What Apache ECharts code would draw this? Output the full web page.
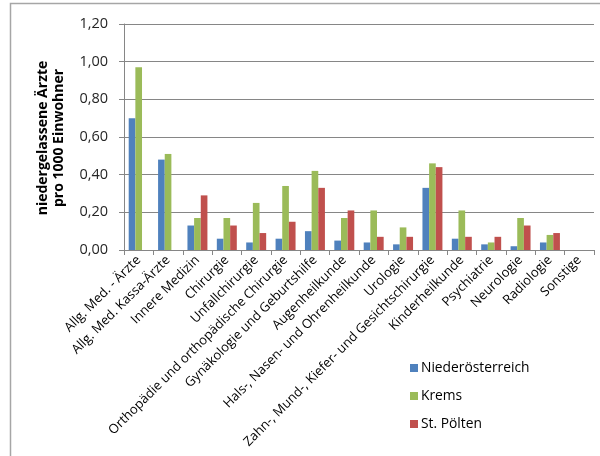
<!DOCTYPE html>
<html>
<head>
<meta charset="utf-8">
<script src="https://cdn.jsdelivr.net/npm/echarts@6/dist/echarts.min.js"></script>
<style>
  html, body { margin: 0; padding: 0; background: #fff; }
  #chart { width: 600px; height: 456px; }
</style>
</head>
<body>
<div id="chart"></div>
<script>
// Fachrichtungen
const categories = [
  'Allg. Med. - Ärzte',
  'Allg. Med. Kassa-Ärzte',
  'Innere Medizin',
  'Chirurgie',
  'Unfallchirurgie',
  'Orthopädie und orthopädische Chirurgie',
  'Gynäkologie und Geburtshilfe',
  'Augenheilkunde',
  'Hals-, Nasen- und Ohrenheilkunde',
  'Urologie',
  'Zahn-, Mund-, Kiefer- und Gesichtschirurgie',
  'Kinderheilkunde',
  'Psychiatrie',
  'Neurologie',
  'Radiologie',
  'Sonstige'
];

// niedergelassene Ärzte pro 1000 Einwohner
const niederoesterreich = [0.70, 0.48, 0.13, 0.06, 0.04, 0.06, 0.10, 0.05, 0.04, 0.03, 0.33, 0.06, 0.03, 0.02, 0.04, 0];
const krems             = [0.97, 0.51, 0.17, 0.17, 0.25, 0.34, 0.42, 0.17, 0.21, 0.12, 0.46, 0.21, 0.04, 0.17, 0.08, 0];
const stPoelten         = [0,    0,    0.29, 0.13, 0.09, 0.15, 0.33, 0.21, 0.07, 0.07, 0.44, 0.07, 0.07, 0.13, 0.09, 0];

const seriesNames = ['Niederösterreich', 'Krems', 'St. Pölten'];
const colors = ['#4F81BD', '#9BBB59', '#C0504D'];
const font = 'Open Sans, Lato, sans-serif';

const chart = echarts.init(document.getElementById('chart'), null, { renderer: 'canvas' });

chart.setOption({
  animation: false,
  color: colors,
  graphic: [{
    type: 'rect',
    shape: { x: 10.5, y: 3.5, width: 600, height: 470 },
    style: { fill: 'none', stroke: '#a6a6a6', lineWidth: 1.5 },
    silent: true
  }, {
    type: 'text',
    x: 51,
    y: 138,
    rotation: Math.PI / 2,
    style: {
      text: 'niedergelassene Ärzte\npro 1000 Einwohner',
      font: 'bold 14px ' + font,
      fill: '#000',
      align: 'center',
      verticalAlign: 'middle',
      lineHeight: 16
    },
    silent: true
  }],
  grid: { left: 124, right: 6, top: 24, bottom: 206, containLabel: false },
  legend: {
    orient: 'vertical',
    left: 405,
    top: 356,
    itemWidth: 8,
    itemHeight: 8,
    itemGap: 14,
    icon: 'rect',
    data: seriesNames,
    textStyle: { fontFamily: font, fontSize: 13.8, color: '#000', padding: [0, 0, 0, -2] }
  },
  xAxis: {
    type: 'category',
    data: categories,
    boundaryGap: true,
    axisLine: { lineStyle: { color: '#868686', width: 1 } },
    axisTick: { show: true, alignWithLabel: false, length: 5, lineStyle: { color: '#868686' } },
    axisLabel: {
      interval: 0,
      rotate: 45,
      fontFamily: font,
      fontSize: 13,
      color: '#000',
      margin: 8
    }
  },
  yAxis: {
    type: 'value',
    min: 0,
    max: 1.2,
    interval: 0.2,
    axisLine: { show: true, lineStyle: { color: '#868686', width: 1 } },
    axisTick: { show: true, inside: false, length: 5, lineStyle: { color: '#868686' } },
    splitLine: { lineStyle: { color: '#868686', width: 1 } },
    axisLabel: {
      fontFamily: font,
      fontSize: 14.5,
      color: '#262626',
      margin: 16,
      formatter: v => v.toFixed(2).replace('.', ',')
    }
  },
  series: [niederoesterreich, krems, stPoelten].map((d, i) => ({
    name: seriesNames[i],
    type: 'bar',
    data: d,
    barGap: '0%',
    barCategoryGap: '32%'
  }))
});
</script>
</body>
</html>
